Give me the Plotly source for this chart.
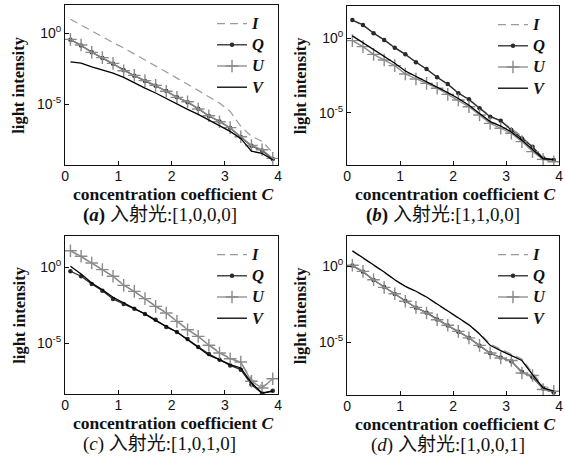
import plotly.graph_objects as go

W, H = 565, 457

C = [0.1, 0.3, 0.5, 0.7, 0.9, 1.1, 1.3, 1.5, 1.7, 1.9,
     2.1, 2.3, 2.5, 2.7, 2.9, 3.1, 3.3, 3.5, 3.7, 3.9]

# log10 of light intensity
a_I = [1.0, 0.58, 0.17, -0.24, -0.65, -1.03, -1.44, -1.85, -2.27, -2.72,
       -3.15, -3.6, -4.05, -4.45, -4.9, -5.5, -6.55, -7.25, -7.6, -8.4]
a_Q = [-0.45, -0.85, -1.32, -1.73, -2.13, -2.6, -2.98, -3.35, -3.68, -4.06,
       -4.5, -4.85, -5.3, -5.82, -6.2, -6.66, -7.3, -7.92, -8.25, -8.85]
a_U = [-0.42, -0.82, -1.34, -1.71, -2.11, -2.63, -2.96, -3.33, -3.66, -4.08,
       -4.51, -4.81, -5.33, -5.8, -6.22, -6.64, -7.28, -7.9, -8.2, -8.8]
a_V = [-2.0, -2.1, -2.35, -2.55, -2.8, -3.1, -3.5, -3.85, -4.2, -4.6,
       -5.0, -5.35, -5.7, -6.1, -6.5, -6.9, -7.4, -8.3, -8.45, -8.9]

b_I = [1.2, 0.85, 0.38, -0.14, -0.6, -1.12, -1.58, -2.1, -2.6, -3.1,
       -3.66, -4.15, -4.65, -5.2, -5.6, -6.05, -6.6, -7.35, -7.95, -8.3]
b_Q = [1.23, 0.9, 0.34, -0.11, -0.63, -1.08, -1.61, -2.06, -2.62, -3.07,
       -3.7, -4.1, -4.7, -5.27, -5.54, -6.17, -6.73, -7.3, -8.07, -8.18]
b_U = [-0.16, -0.56, -1.08, -1.46, -1.84, -2.4, -2.74, -3.03, -3.36, -3.77,
       -4.15, -4.6, -5.16, -5.72, -6.05, -6.39, -6.95, -7.62, -8.14, -8.3]
b_V = [0.16, -0.3, -0.78, -1.23, -1.68, -2.2, -2.55, -2.9, -3.25, -3.65,
       -4.05, -4.5, -5.05, -5.6, -5.9, -6.3, -6.85, -7.5, -8.1, -8.15]

c_I = [1.08, 0.7, 0.27, -0.17, -0.6, -1.15, -1.6, -2.05, -2.55, -3.0,
       -3.55, -4.1, -4.6, -5.1, -5.6, -6.0, -6.3, -7.4, -7.85, -7.6]
c_Q = [-0.26, -0.59, -1.1, -1.54, -2.09, -2.42, -2.73, -3.08, -3.46, -3.94,
       -4.27, -4.74, -5.26, -5.73, -6.1, -6.48, -6.76, -7.75, -8.33, -8.15]
c_U = [1.1, 0.73, 0.29, -0.15, -0.59, -1.19, -1.59, -2.07, -2.58, -3.02,
       -3.57, -4.12, -4.56, -5.15, -5.66, -6.04, -6.26, -7.53, -7.97, -7.36]
c_V = [0.07, -0.44, -1.04, -1.48, -1.98, -2.36, -2.69, -3.08, -3.52, -3.9,
       -4.27, -4.78, -5.29, -5.81, -6.1, -6.43, -6.65, -7.64, -8.3, -8.2]

d_I = [1.0, 0.55, 0.08, -0.4, -0.9, -1.35, -1.66, -2.05, -2.5, -2.95,
       -3.38, -3.88, -4.4, -5.1, -5.45, -5.75, -6.1, -7.0, -7.9, -8.05]
d_Q = [0.05, -0.35, -0.9, -1.36, -1.82, -2.28, -2.72, -3.05, -3.5, -3.9,
       -4.3, -4.7, -5.22, -5.72, -6.0, -6.25, -6.95, -7.3, -8.05, -8.3]
d_U = [0.07, -0.33, -0.88, -1.38, -1.8, -2.3, -2.7, -3.07, -3.51, -3.88,
       -4.28, -4.71, -5.2, -5.7, -6.03, -6.2, -7.02, -7.19, -8.11, -8.22]
d_V = [1.03, 0.57, 0.11, -0.37, -0.88, -1.32, -1.64, -2.02, -2.48, -2.92,
       -3.36, -3.84, -4.45, -5.2, -5.55, -5.88, -6.2, -7.13, -8.0, -8.22]

panels = [
    dict(I=a_I, Q=a_Q, U=a_U, V=a_V, yr=[-9.27, 2.0], box=(62, 278, 5, 165),
         cap="<b>(<i>a</i>)</b> 入射光:[1,0,0,0]", capx=158),
    dict(I=b_I, Q=b_Q, U=b_U, V=b_V, yr=[-8.52, 2.17], box=(348, 563, 6, 165),
         cap="<b>(<i>b</i>)</b> 入射光:[1,1,0,0]", capx=445),
    dict(I=c_I, Q=c_Q, U=c_U, V=c_V, yr=[-8.37, 2.07], box=(62, 278, 236, 394),
         cap="(<i>c</i>) 入射光:[1,0,1,0]", capx=158),
    dict(I=d_I, Q=d_Q, U=d_U, V=d_V, yr=[-8.47, 2.0], box=(348, 563, 236, 395),
         cap="(<i>d</i>) 入射光:[1,0,0,1]", capx=450),
]

x_ticks = [0, 1, 2, 3, 4]
y_tickvals = [1, 1e-5]
y_ticktext = ["10<sup>0</sup>", "10<sup>-5</sup>"]

SERIF = "Liberation Serif"
SANS = "Liberation Sans"

fig = go.Figure()
annotations = []
layout = {}

for k, p in enumerate(panels):
    n = "" if k == 0 else str(k + 1)
    xa, ya = "x" + n, "y" + n
    lg = "legend" + n
    x0, x1, t, b = p["box"]
    styles = [
        ("I", dict(color="#9a9a9a", width=1.2, dash="8px,5px"), None, "lines"),
        ("Q", dict(color="#2a2a2a", width=1.3), dict(symbol="circle", size=4.5, color="#2a2a2a"), "lines+markers"),
        ("U", dict(color="#8a8a8a", width=1.3), dict(symbol="cross-thin", size=9, line=dict(color="#8a8a8a", width=1.4)), "lines+markers"),
        ("V", dict(color="#000000", width=1.3), None, "lines"),
    ]
    for name, line, marker, mode in styles:
        tr = dict(x=C, y=[10 ** v for v in p[name]], mode=mode, line=line,
                  name=f'<span style="font-size:16.5px"><b><i>{name}</i></b></span>',
                  xaxis=xa, yaxis=ya, legend=lg)
        if marker:
            tr["marker"] = marker
        fig.add_trace(go.Scatter(**tr))

    axis_common = dict(showline=True, mirror=True, linecolor="#111", linewidth=1.2,
                       ticks="inside", ticklen=4, tickcolor="#111", showgrid=False,
                       zeroline=False, tickfont=dict(family=SANS, size=14, color="#111"))
    layout["xaxis" + n] = dict(domain=[x0 / W, x1 / W], range=[0, 4], tickvals=x_ticks,
                               anchor=ya, ticklabelstandoff=-2, **axis_common)
    layout["yaxis" + n] = dict(domain=[1 - b / H, 1 - t / H], type="log", range=p["yr"],
                               tickvals=y_tickvals, ticktext=y_ticktext, anchor=xa, **axis_common)
    layout[lg] = dict(x=(x1 - 67) / W, y=1 - (t + 3) / H, xanchor="left", yanchor="top",
                      bgcolor="rgba(0,0,0,0)", font=dict(family=SERIF, size=14, color="#111"),
                      tracegroupgap=0, itemwidth=30)
    xc = (x0 + x1) / 2
    annotations.append(dict(x=x0 - 47, y=(t + b) / 2,
                            text="<b>light intensity</b>", textangle=-90, showarrow=False,
                            font=dict(family=SERIF, size=16.5, color="#111")))
    annotations.append(dict(x=xc + 2, y=b + 29, text="<b>concentration coefficient <i>C</i></b>",
                            showarrow=False, font=dict(family=SERIF, size=17.5, color="#111")))
    annotations.append(dict(x=p["capx"], y=b + 50, text=p["cap"], showarrow=False,
                            font=dict(family=SERIF + ", Noto Sans CJK SC", size=19, color="#111")))

for a in annotations:
    a["x"] = a["x"] / W
    a["y"] = 1 - a["y"] / H
    a["xref"] = "paper"
    a["yref"] = "paper"
    a["xanchor"] = "center"
    a["yanchor"] = "middle"

fig.update_layout(width=W, height=H, margin=dict(l=0, r=0, t=0, b=0),
                  paper_bgcolor="white", plot_bgcolor="white",
                  annotations=annotations, **layout)

fig.write_html("out.html", config={"displayModeBar": False},
               post_script="document.body.style.margin='0';")
